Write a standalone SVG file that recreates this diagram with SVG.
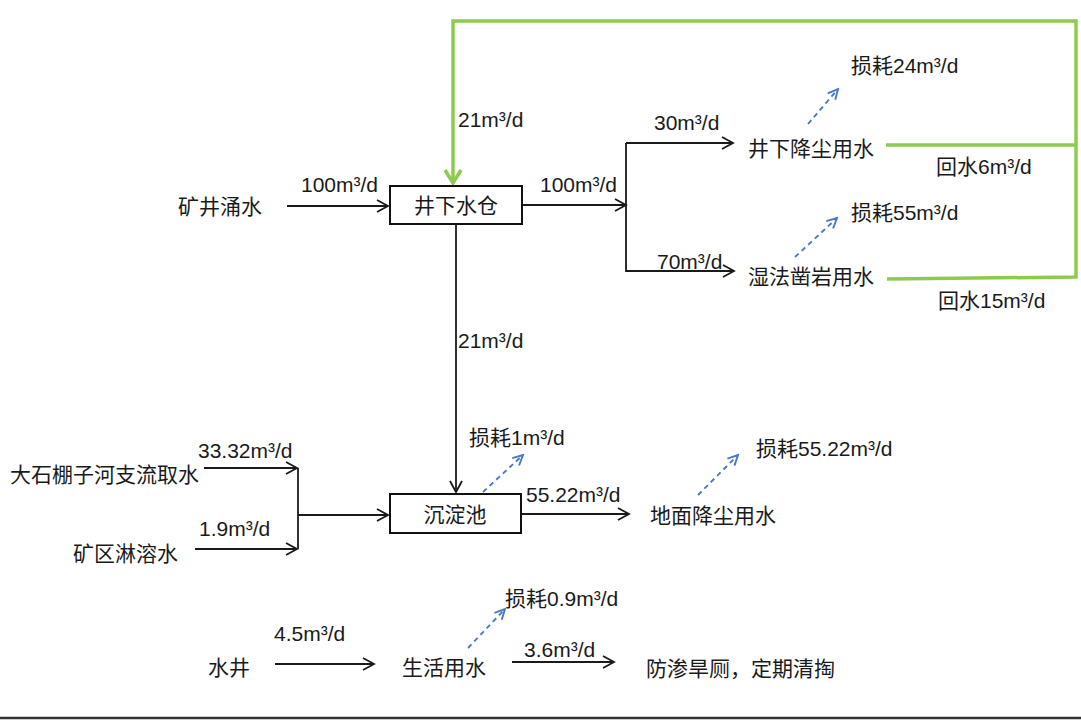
<svg xmlns="http://www.w3.org/2000/svg" width="1081" height="720" viewBox="0 0 1081 720">
<defs>
<style>
text{font-family:"Liberation Sans","Noto Sans CJK SC",sans-serif;font-size:21px;fill:#1a1a1a}
.box{fill:#fff;stroke:#111;stroke-width:2}
.ln{fill:none;stroke:#1a1a1a;stroke-width:1.8}
.gr{fill:none;stroke:#8DCB4F;stroke-width:3.5;stroke-linejoin:miter}
.bl{fill:none;stroke:#4a78c8;stroke-width:1.9;stroke-dasharray:5 4}
.mid{text-anchor:middle}
</style>
<marker id="ah" markerUnits="userSpaceOnUse" markerWidth="14" markerHeight="14" viewBox="0 0 14 14" refX="12" refY="7" orient="auto">
<path d="M1,1 L12,7 L1,13" fill="none" stroke="#1a1a1a" stroke-width="1.8"/>
</marker>
<marker id="bh" markerUnits="userSpaceOnUse" markerWidth="14" markerHeight="14" viewBox="0 0 14 14" refX="12" refY="7" orient="auto">
<path d="M2,2 L12,7 L2,12" fill="none" stroke="#4a78c8" stroke-width="1.9"/>
</marker>
<marker id="gh" markerUnits="userSpaceOnUse" markerWidth="18" markerHeight="20" viewBox="0 0 18 20" refX="15" refY="10" orient="auto">
<path d="M2,2 L15,10 L2,18" fill="none" stroke="#8DCB4F" stroke-width="3.5"/>
</marker>
</defs>
<rect width="1081" height="720" fill="#fff"/>

<g id="connectors">
<path class="gr" d="M886,145 L1076,145"/>
<path class="gr" d="M887,279 L1076,277 L1076,21 L453,21 L453,183" marker-end="url(#gh)"/>
<path class="ln" d="M287,206 L388,206" marker-end="url(#ah)"/>
<path class="ln" d="M523,205 L626,205" marker-end="url(#ah)"/>
<path class="ln" d="M626,143 L626,271 L734,271" marker-end="url(#ah)"/>
<path class="ln" d="M626,143 L733,143" marker-end="url(#ah)"/>
<path class="ln" d="M456,224 L456,492" marker-end="url(#ah)"/>
<path class="ln" d="M522,514 L629,514" marker-end="url(#ah)"/>
<path class="ln" d="M204,468 L297,468" marker-end="url(#ah)"/>
<path class="ln" d="M195,549 L297,549" marker-end="url(#ah)"/>
<path class="ln" d="M298,468 L298,549"/>
<path class="ln" d="M298,515 L388,515" marker-end="url(#ah)"/>
<path class="ln" d="M275,664 L374,664" marker-end="url(#ah)"/>
<path class="ln" d="M512,662 L614,662" marker-end="url(#ah)"/>
<path class="bl" d="M808,124 L838,89" marker-end="url(#bh)"/>
<path class="bl" d="M795,257 L837,218" marker-end="url(#bh)"/>
<path class="bl" d="M483,492 L523,455" marker-end="url(#bh)"/>
<path class="bl" d="M698,495 L738,455" marker-end="url(#bh)"/>
<path class="bl" d="M468,648 L505,609" marker-end="url(#bh)"/>
</g>

<g id="labels">
<text x="301" y="192">100m³/d</text>
<text x="458" y="127">21m³/d</text>
<text x="540" y="192">100m³/d</text>
<text x="654" y="130">30m³/d</text>
<text x="657" y="269">70m³/d</text>
<text x="936" y="174">回水6m³/d</text>
<text x="938" y="308">回水15m³/d</text>
<text x="458" y="348">21m³/d</text>
<text x="526" y="502">55.22m³/d</text>
<text x="198" y="458">33.32m³/d</text>
<text x="199" y="536">1.9m³/d</text>
<text x="274" y="641">4.5m³/d</text>
<text x="524" y="657">3.6m³/d</text>
</g>

<g id="n-kjys"><text x="178" y="214">矿井涌水</text></g>
<g id="n-jxsc"><rect class="box" x="390" y="186" width="132" height="38"/><text class="mid" x="456" y="213">井下水仓</text></g>
<g id="n-jxjc"><text x="748" y="156">井下降尘用水</text></g>
<g id="n-sfzy"><text x="748" y="284">湿法凿岩用水</text></g>
<g id="n-sh24"><text x="851" y="73">损耗24m³/d</text></g>
<g id="n-sh55"><text x="851" y="220">损耗55m³/d</text></g>
<g id="n-cdc"><rect class="box" x="390" y="494" width="131" height="39"/><text class="mid" x="455" y="522">沉淀池</text></g>
<g id="n-sh1"><text x="469" y="445">损耗1m³/d</text></g>
<g id="n-dmjc"><text x="650" y="523">地面降尘用水</text></g>
<g id="n-sh5522"><text x="756" y="456">损耗55.22m³/d</text></g>
<g id="n-dsp"><text x="10" y="482">大石棚子河支流取水</text></g>
<g id="n-kqll"><text x="73" y="561">矿区淋溶水</text></g>
<g id="n-sj"><text x="208" y="675">水井</text></g>
<g id="n-shys"><text x="402" y="675">生活用水</text></g>
<g id="n-sh09"><text x="505" y="606">损耗0.9m³/d</text></g>
<g id="n-fshc"><text x="646" y="676">防渗旱厕，定期清掏</text></g>

<line x1="0" y1="718" x2="1081" y2="718" stroke="#333" stroke-width="2.5"/>
</svg>
